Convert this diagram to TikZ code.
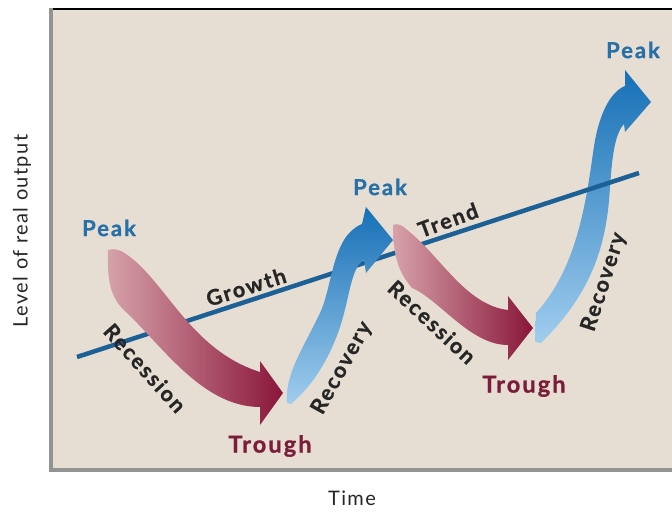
\documentclass[tikz,border=0pt]{standalone}
\usepackage{fontspec}
\usepackage{xcolor}
\usepackage{tikz}
\usetikzlibrary{calc}
\newfontfamily\lblfont{Lato}[LetterSpace=9,BoldFeatures={FakeBold=1}]
\newfontfamily\axfont{Lato}[LetterSpace=7]
\definecolor{panel}{RGB}{231,222,211}
\definecolor{trendblue}{RGB}{28,96,150}
\definecolor{peakblue}{RGB}{40,112,168}
\definecolor{troughred}{RGB}{122,28,58}
\definecolor{reclight}{RGB}{214,162,170}
\definecolor{recdark}{RGB}{138,22,58}
\definecolor{recovpale}{RGB}{160,205,238}
\definecolor{recovmid}{RGB}{62,142,205}
\definecolor{recovdeep}{RGB}{22,112,182}
\tikzset{
  peak/.style={text=peakblue,font=\lblfont\bfseries\fontsize{22}{22}\selectfont},
  trough/.style={text=troughred,font=\lblfont\bfseries\fontsize{23.5}{23.5}\selectfont},
  phase/.style={text=black!85,font=\lblfont\bfseries\fontsize{21.5}{21.5}\selectfont},
  axislbl/.style={text=black!85,font=\axfont\fontsize{20}{20}\selectfont},
  recess/.style={left color=reclight,right color=recdark},
  recov/.style={bottom color=recovpale,middle color=recovmid,top color=recovdeep}
}

\begin{document}
\begin{tikzpicture}[x=1pt,y=-1pt]
      \useasboundingbox (0,0) rectangle (672,514);
      \fill[panel] (51,9) rectangle (672,468);
      \draw[line width=1.2pt] (53,9)--(672,9);
      \draw[gray!85,line width=4pt] (51,8)--(51,470)--(672,470);

      % second recovery sits under the trend line
      \shade[recov] (535,342)--(536,313)
        .. controls (575,270) and (585,210) .. (593,153)
        .. controls (598,115) and (610,92) .. (625,86)
        --(625,70)--(651,102)--(625,132)--(624,124)
        .. controls (614,135) and (612,160) .. (610,187)
        .. controls (607,240) and (595,290) .. (541,343)--cycle;

      \coordinate (t0) at (77,357);
      \coordinate (t1) at (639,173);
      \draw[trendblue,line width=4.5pt] (t0)--(t1);

      \shade[recess] (108,250) .. controls (114,248) and (121,250) .. (126,254)
        .. controls (165,280) and (190,350) .. (260,372)
        --(260,361)--(283,393)--(260,425)--(260,407)
        .. controls (203,407) and (163,347) .. (126,312)
        .. controls (110,298) and (107,280) .. cycle;

      \shade[recov] (287,403) .. controls (284,375) and (305,345) .. (320,313)
        .. controls (333,285) and (332,236) .. (362,224)
        --(366,207)--(393,240)--(366,273)--(364,260)
        .. controls (350,268) and (350,300) .. (338,333)
        .. controls (326,365) and (310,388) .. (291,404)--cycle;

      \shade[recess] (393,225) .. controls (397,223) and (402,225) .. (406,229)
        .. controls (440,255) and (465,305) .. (508,310)
        --(508,296)--(533,328)--(508,360)--(508,345)
        .. controls (470,345) and (440,300) .. (412,288)
        .. controls (398,272) and (393,255) .. cycle;

      \node[peak] (pk1) at (109,228) {Peak};
      \node[peak] (pk2) at (380,187) {Peak};
      \node[peak] (pk3) at (633,50) {Peak};
      \node[trough] (tr1) at (270,446) {Trough};
      \node[trough] (tr2) at (524,386) {Trough};
      \node[phase,rotate=17.5] (gr) at (246,287) {Growth};
      \node[phase,rotate=20] (td) at (448,220) {Trend};
      \node[phase,rotate=-48] (rs1) at (145,368) {Recession};
      \node[phase,rotate=-43] (rs2) at (432,322) {Recession};
      \node[phase,rotate=61] (rv1) at (342,368) {Recovery};
      \node[phase,rotate=72] (rv2) at (604,282) {Recovery};
      \node[axislbl] (tm) at (352,498) {Time};
      \node[axislbl,rotate=90] (lv) at (22,231) {Level of real output};
\end{tikzpicture}
\end{document}
